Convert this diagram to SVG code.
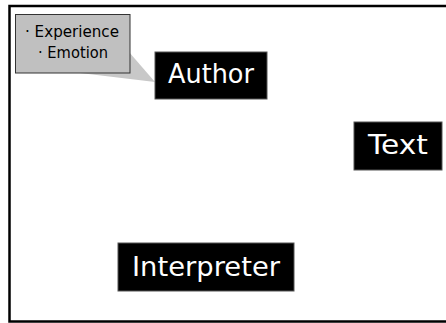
<svg xmlns="http://www.w3.org/2000/svg" width="446" height="323" viewBox="0 0 446 323">
<style>
.node rect{fill:#000;stroke:#555;stroke-width:1}
.node text{fill:#fff;font-family:"DejaVu Sans","Liberation Sans",sans-serif;font-size:27px}
.note text{fill:#000;font-family:"DejaVu Sans","Liberation Sans",sans-serif;font-size:15px}
</style>
<rect x="0" y="0" width="446" height="323" fill="#fff"/>
<rect x="9.5" y="6" width="450" height="315.5" fill="none" stroke="#000" stroke-width="2.5"/>
<g id="note" class="note">
<polygon points="129,52 155,82 80,73" fill="#c8c8c8"/>
<rect x="15.5" y="14.5" width="114.5" height="58.5" fill="#c0c0c0" stroke="#333" stroke-width="1"/>
<text x="25" y="37" textLength="94" lengthAdjust="spacingAndGlyphs">· Experience</text>
<text x="38" y="58" textLength="70" lengthAdjust="spacingAndGlyphs">· Emotion</text>
</g>
<g id="connectors"/>
<g id="author" class="node">
<rect x="155" y="52" width="112" height="47"/>
<text x="168" y="83" textLength="86" lengthAdjust="spacingAndGlyphs">Author</text>
</g>
<g id="text" class="node">
<rect x="354" y="122" width="88" height="48"/>
<text x="368" y="154" textLength="60" lengthAdjust="spacingAndGlyphs">Text</text>
</g>
<g id="interpreter" class="node">
<rect x="118" y="243" width="176" height="48"/>
<text x="132" y="276" textLength="148" lengthAdjust="spacingAndGlyphs">Interpreter</text>
</g>
</svg>
